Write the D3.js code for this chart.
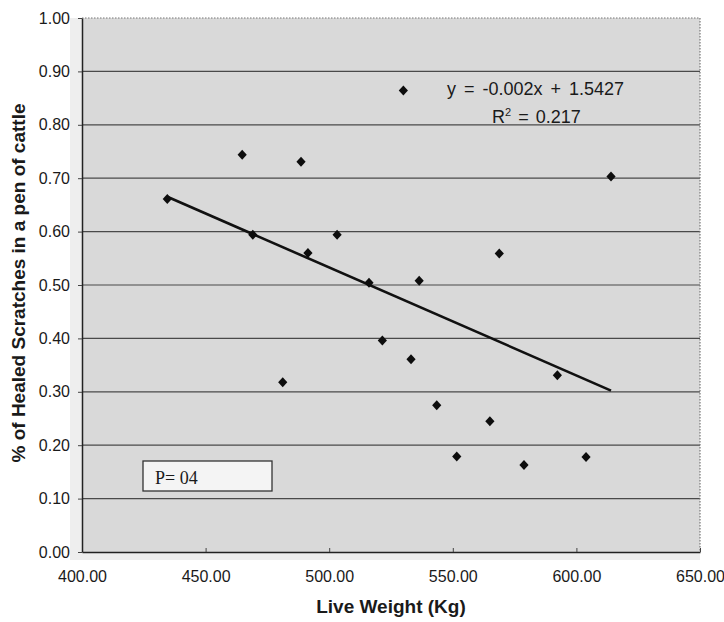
<!DOCTYPE html>
<html>
<head>
<meta charset="utf-8">
<script src="https://cdn.jsdelivr.net/npm/d3@7"></script>
<style>
  body { margin: 0; background: #fff; }
  text { font-family: Arial, "Liberation Sans", sans-serif; fill: #1a1a1a; }
</style>
</head>
<body>
<div id="chart"></div>
<script>
// values
var liveWeight = [434.5, 464.8, 469.1, 481.2, 488.6, 491.4, 503.2, 516.1, 521.5, 530.0,
                  533.1, 536.4, 543.5, 551.6, 565.0, 568.8, 578.8, 592.3, 603.9, 614.0];
var healedScratches = [0.661, 0.744, 0.594, 0.318, 0.731, 0.560, 0.594, 0.504, 0.396, 0.864,
                       0.361, 0.508, 0.275, 0.179, 0.245, 0.559, 0.163, 0.331, 0.178, 0.703];
var xTicks = [400, 450, 500, 550, 600, 650];
var yTicks = [0, 0.1, 0.2, 0.3, 0.4, 0.5, 0.6, 0.7, 0.8, 0.9, 1.0];
var equationLabel = "y = -0.002x + 1.5427";
var rSquaredValue = "0.217";
var pLabel = "P= 04";
var xTitle = "Live Weight (Kg)";
var yTitle = "% of Healed Scratches in a pen of cattle";

var width = 724, height = 622;
var margin = {top: 18, right: 24, bottom: 70, left: 82};
var plotW = width - margin.left - margin.right;
var plotH = height - margin.top - margin.bottom;

var x = d3.scaleLinear().domain([400, 650]).range([margin.left, margin.left + plotW]);
var y = d3.scaleLinear().domain([0, 1]).range([margin.top + plotH, margin.top]);

var svg = d3.select("#chart").append("svg")
            .attr("width", width)
            .attr("height", height);

// light shadow band round the plot (from the scan)
svg.append("rect")
   .attr("x", margin.left - 12).attr("y", margin.top)
   .attr("width", plotW + 12).attr("height", plotH + 8)
   .attr("fill", "#eeeeee");

// plot area
svg.append("rect")
   .attr("x", margin.left).attr("y", margin.top)
   .attr("width", plotW).attr("height", plotH)
   .attr("fill", "#d9d9d9");

// gridlines
svg.append("g").selectAll("line")
   .data(yTicks.filter(function(d) { return d > 0 && d < 1; }))
   .enter().append("line")
   .attr("x1", margin.left).attr("x2", margin.left + plotW)
   .attr("y1", function(d) { return y(d); })
   .attr("y2", function(d) { return y(d); })
   .attr("stroke", "#4a4a4a")
   .attr("stroke-width", 1.2);

// dotted top and right border
svg.append("path")
   .attr("d", "M" + margin.left + "," + y(1) + "H" + x(650) + "V" + y(0))
   .attr("fill", "none")
   .attr("stroke", "#777")
   .attr("stroke-width", 1.2)
   .attr("stroke-dasharray", "1.5,1.5");

// axes
var xAxis = d3.axisBottom(x).tickValues(xTicks).tickFormat(d3.format(".2f")).tickSizeInner(-4).tickSizeOuter(0);
var yAxis = d3.axisLeft(y).tickValues(yTicks).tickFormat(d3.format(".2f")).tickSizeInner(4).tickSizeOuter(0);

var gx = svg.append("g").attr("transform", "translate(0," + y(0) + ")").call(xAxis);
gx.select(".domain").attr("stroke", "#222").attr("stroke-width", 1.5);
gx.selectAll(".tick line").attr("stroke", "#444");
gx.selectAll(".tick text")
  .attr("y", 19).attr("dy", "0.71em")
  .style("font-size", "16px").style("font-family", "Arial, 'Liberation Sans', sans-serif")
  .attr("fill", "#1a1a1a");

var gy = svg.append("g").attr("transform", "translate(" + margin.left + ",0)").call(yAxis);
gy.select(".domain").attr("stroke", "#222").attr("stroke-width", 1.5);
gy.selectAll(".tick line").attr("stroke", "#444");
gy.selectAll(".tick text")
  .attr("x", -12)
  .style("font-size", "16px").style("font-family", "Arial, 'Liberation Sans', sans-serif")
  .attr("fill", "#1a1a1a");

// least squares trend line from the points
var data = liveWeight.map(function(w, i) { return {w: w, s: healedScratches[i]}; });
var mx = d3.mean(liveWeight), my = d3.mean(healedScratches);
var sxy = d3.sum(data, function(d) { return (d.w - mx) * (d.s - my); });
var sxx = d3.sum(data, function(d) { return (d.w - mx) * (d.w - mx); });
var slope = sxy / sxx, intercept = my - slope * mx;
var xExt = d3.extent(liveWeight);

svg.append("line")
   .attr("x1", x(xExt[0])).attr("y1", y(slope * xExt[0] + intercept))
   .attr("x2", x(xExt[1])).attr("y2", y(slope * xExt[1] + intercept))
   .attr("stroke", "#111")
   .attr("stroke-width", 2.6);

// diamond markers
svg.append("g").selectAll("path")
   .data(data)
   .enter().append("path")
   .attr("d", "M0,-5L4.6,0L0,5L-4.6,0Z")
   .attr("transform", function(d) { return "translate(" + x(d.w) + "," + y(d.s) + ")"; })
   .attr("fill", "#0d0d0d");

// equation
svg.append("text")
   .attr("x", 447).attr("y", 95)
   .style("font-size", "18px")
   .style("word-spacing", "3px")
   .text(equationLabel);
var r2 = svg.append("text")
   .attr("x", 492).attr("y", 123)
   .style("font-size", "18px")
   .style("word-spacing", "2px");
r2.append("tspan").text("R");
r2.append("tspan").attr("dy", -7).style("font-size", "11px").text("2");
r2.append("tspan").attr("dy", 7).text(" = " + rSquaredValue);

// P box
svg.append("rect")
   .attr("x", 143).attr("y", 461)
   .attr("width", 129).attr("height", 30)
   .attr("fill", "#f4f4f4")
   .attr("stroke", "#333")
   .attr("stroke-width", 1.3);
svg.append("text")
   .attr("x", 155).attr("y", 484)
   .style("font-family", "'Liberation Serif', 'DejaVu Serif', serif")
   .style("font-size", "18px")
   .text(pLabel);

// axis titles
svg.append("text")
   .attr("x", x(525)).attr("y", 613)
   .attr("text-anchor", "middle")
   .style("font-size", "19px").style("font-weight", "bold")
   .text(xTitle);
svg.append("text")
   .attr("transform", "translate(25," + 283 + ") rotate(-90)")
   .attr("text-anchor", "middle")
   .style("font-size", "19px").style("font-weight", "bold")
   .text(yTitle);
</script>
</body>
</html>
